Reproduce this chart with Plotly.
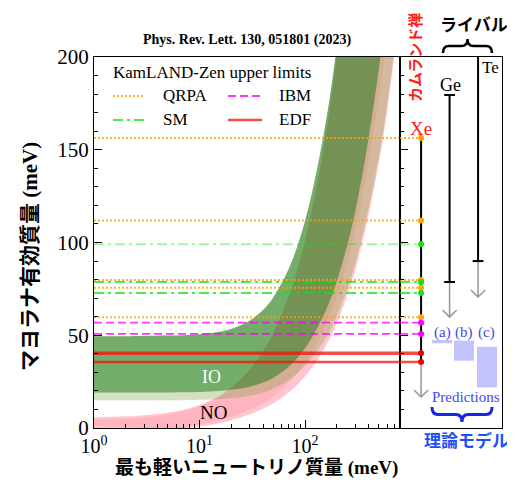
import plotly.graph_objects as go

# ---------------- data ----------------
m_light = [1, 2, 3, 5, 7, 10, 15, 20, 30, 40, 50, 70, 100, 150, 200, 300, 500, 700, 1000]

io_upper = [49.5, 49.5, 49.6, 49.8, 50.0, 50.5, 51.7, 53.4, 57.9, 63.6, 70.4, 85.7, 111.6, 158.0, 206.0, 304.1, 502.4, 701.7, 1001.2]
io_inner_lower = [19.1, 19.1, 19.1, 19.2, 19.3, 19.4, 19.9, 20.6, 22.3, 24.5, 27.1, 33.0, 43.0, 60.8, 79.3, 117.1, 193.4, 270.2, 385.5]
io_outer_lower = [14.9, 14.9, 14.9, 14.9, 15.0, 15.2, 15.5, 16.0, 17.4, 19.1, 21.1, 25.7, 33.5, 46.5, 60.5, 89.0, 146.0, 204.0, 290.0]

no_outer_upper = [5.8, 6.3, 6.9, 8.2, 9.8, 12.4, 17.0, 21.8, 31.5, 41.4, 51.3, 71.2, 101.1, 151.0, 201.0, 301.0, 501.0, 701.0, 1001.0]
no_outer_lower = [0.0, 0.0, 0.0, 0.0, 0.0, 0.8, 2.4, 4.2, 7.4, 10.4, 13.3, 19.1, 27.8, 42.2, 56.6, 85.3, 142.6, 200.0, 286.0]
no_inner_upper = [4.6, 5.1, 5.8, 7.3, 9.0, 11.6, 16.2, 21.0, 30.8, 40.7, 50.6, 70.5, 100.4, 150.3, 200.3, 300.2, 500.1, 700.1, 1000.0]
no_inner_lower = [1.0, 0.5, 0.0, 0.0, 0.0, 2.0, 4.0, 6.0, 9.8, 13.4, 17.0, 24.2, 35.0, 53.0, 71.0, 107.0, 178.0, 250.0, 357.0]

qrpa_limits = [156.3, 111.8, 79.8, 75.6, 59.7]
sm_limits = [99.0, 78.7, 72.8]
ibm_limits = [56.8, 50.7]
edf_limits = [40.3, 35.6]

exp_names = ["Xe", "Ge", "Te"]
exp_upper = [156.3, 179.5, 305.0]
exp_lower = [35.6, 78.7, 90.0]
exp_arrow_tip = [16.7, 59.8, 70.6]

pred_labels = ["(a)", "(b)", "(c)"]
pred_high = [47.4, 47.1, 43.8]
pred_low = [45.7, 36.3, 21.9]

x_ticks = [1, 10, 100]
x_ticktext = ["10<sup>0</sup>", "10<sup>1</sup>", "10<sup>2</sup>"]
y_ticks = [0, 50, 100, 150, 200]

# ---------------- layout helpers ----------------
OFF = 8                      # page body margin
W, H = 515 - OFF, 486 - OFF
L, T = 94 - OFF, 57 - OFF
R = W - (502 - OFF)
B = H - (428 - OFF)
PW, PH = W - L - R, H - T - B


def px(x):
    return (x - OFF - L) / PW


def py(y):
    return (H - B - (y - OFF)) / PH


SERIF = "Liberation Serif"
CJK = "Liberation Serif, Noto Sans CJK JP"

fig = go.Figure()


def band(lo, hi, color):
    fig.add_trace(go.Scatter(x=m_light, y=lo, mode="lines", line=dict(width=0, shape="spline"),
                             hoverinfo="skip", showlegend=False))
    fig.add_trace(go.Scatter(x=m_light, y=hi, mode="lines", line=dict(width=0, shape="spline"),
                             fill="tonexty", fillcolor=color, hoverinfo="skip", showlegend=False))


band(no_outer_lower, no_outer_upper, "rgba(255,160,175,0.6)")
band(no_inner_lower, no_inner_upper, "rgba(255,140,160,0.3)")
band(io_outer_lower, io_upper, "rgba(120,160,60,0.32)")
band(io_inner_lower, io_upper, "rgba(20,120,20,0.5)")

X_END = 1000
styles = {
    "QRPA": dict(color="rgba(255,160,0,0.8)", dash="2px,2px", width=2),
    "SM": dict(color="rgba(20,225,20,0.75)", dash="10px,4px,3px,4px", width=2),
    "IBM": dict(color="rgba(255,0,255,0.8)", dash="8px,4px", width=1.8),
    "EDF": dict(color="rgba(240,20,10,0.75)", dash="solid", width=2.5),
}
groups = [("QRPA", qrpa_limits), ("SM", sm_limits), ("IBM", ibm_limits), ("EDF", edf_limits)]
dot_colors = {"QRPA": "rgb(255,165,0)", "SM": "rgb(20,225,20)", "IBM": "rgb(255,0,255)", "EDF": "rgb(240,0,0)"}

for name, vals in groups:
    for i, v in enumerate(vals):
        st = dict(styles[name])
        if name == "SM" and i == 0:
            st["color"] = "rgba(20,225,20,0.4)"
        if name == "EDF" and i == 0:
            st["width"] = 3.5
        fig.add_trace(go.Scatter(x=[1, X_END], y=[v, v], mode="lines", line=st,
                                 hoverinfo="skip", showlegend=False, xaxis="x", yaxis="y"))
        fig.add_trace(go.Scatter(x=[0.26, 1], y=[v, v], mode="lines", line=st,
                                 hoverinfo="skip", showlegend=False, xaxis="x2", yaxis="y2"))

# ---------------- right panel: experiments ----------------
ARM_X, ARM_Y, CAP = 0.25, 3.8, 0.19
for i, nm in enumerate(exp_names):
    xc = i + 1
    fig.add_trace(go.Scatter(x=[xc, xc], y=[exp_lower[i], exp_arrow_tip[i]], mode="lines",
                             line=dict(color="rgb(150,150,150)", width=1.5), hoverinfo="skip",
                             showlegend=False, xaxis="x2", yaxis="y2"))
    fig.add_trace(go.Scatter(x=[xc - ARM_X, xc, xc + ARM_X],
                             y=[exp_arrow_tip[i] + ARM_Y, exp_arrow_tip[i], exp_arrow_tip[i] + ARM_Y],
                             mode="lines", line=dict(color="rgb(150,150,150)", width=1.5), hoverinfo="skip",
                             showlegend=False, xaxis="x2", yaxis="y2"))
    fig.add_trace(go.Scatter(x=[xc, xc], y=[exp_upper[i], exp_lower[i]], mode="lines",
                             line=dict(color="black", width=2), hoverinfo="skip",
                             showlegend=False, xaxis="x2", yaxis="y2"))
    if nm != "Xe":
        fig.add_trace(go.Scatter(x=[xc - CAP, xc + CAP], y=[exp_lower[i]] * 2, mode="lines",
                                 line=dict(color="black", width=2), hoverinfo="skip",
                                 showlegend=False, xaxis="x2", yaxis="y2"))
    if nm == "Ge":
        fig.add_trace(go.Scatter(x=[xc - CAP, xc + CAP], y=[exp_upper[i]] * 2, mode="lines",
                                 line=dict(color="black", width=2), hoverinfo="skip",
                                 showlegend=False, xaxis="x2", yaxis="y2"))

for name, vals in groups:
    fig.add_trace(go.Scatter(x=[1] * len(vals), y=vals, mode="markers",
                             marker=dict(color=dot_colors[name], size=6), hoverinfo="skip",
                             showlegend=False, xaxis="x2", yaxis="y2"))

# prediction boxes
pred_x = [(1.383, 2.085), (2.155, 2.857), (2.962, 3.664)]
shapes = []
for (x0, x1), lo, hi in zip(pred_x, pred_low, pred_high):
    shapes.append(dict(type="rect", xref="x2", yref="y2", x0=x0, x1=x1, y0=lo, y1=hi,
                       fillcolor="rgba(170,170,250,0.7)", line=dict(width=0), layer="above"))

annotations = []
for (x0, x1), lab in zip(pred_x, pred_labels):
    annotations.append(dict(x=(x0 + x1) / 2, y=51.3, xref="x2", yref="y2", text=lab, showarrow=False,
                            xanchor="center", yanchor="middle",
                            font=dict(family=SERIF, size=15, color="rgb(70,70,235)")))


def ptext(x, y, text, size, color="black", family=SERIF, xanchor="center", angle=0):
    return dict(x=px(x), y=py(y), xref="paper", yref="paper", text=text, showarrow=False,
                xanchor=xanchor, yanchor="middle", textangle=angle,
                font=dict(family=family, size=size, color=color))


# legend lines (manual)
leg = [("QRPA", 113, 145, 96, 161), ("IBM", 228, 262, 96, 277),
       ("SM", 113, 145, 120, 161), ("EDF", 228, 262, 120, 277)]
for name, x0, x1, yy, tx in leg:
    st = dict(styles[name])
    shapes.append(dict(type="line", xref="paper", yref="paper", x0=px(x0), x1=px(x1), y0=py(yy), y1=py(yy),
                       line=st))
    annotations.append(ptext(tx, yy, name, 17, xanchor="left"))
annotations.append(ptext(111, 73, "KamLAND-Zen upper limits", 17, xanchor="left"))


def brace(x0, x1, y_end, y_tip, r=6):
    ym = (y_end + y_tip) / 2
    xm = (x0 + x1) / 2
    pts = [("M", [(x0, y_end)]), ("Q", [(x0, ym), (x0 + r, ym)]), ("L", [(xm - r, ym)]),
           ("Q", [(xm, ym), (xm, y_tip)]), ("Q", [(xm, ym), (xm + r, ym)]), ("L", [(x1 - r, ym)]),
           ("Q", [(x1, ym), (x1, y_end)])]
    s = ""
    for cmd, ps in pts:
        s += cmd + " " + " ".join(f"{px(a):.5f},{py(b):.5f}" for a, b in ps) + " "
    return s.strip()


shapes.append(dict(type="path", xref="paper", yref="paper", path=brace(443, 492, 53, 39),
                   line=dict(color="black", width=2.5)))
shapes.append(dict(type="path", xref="paper", yref="paper", path=brace(432, 492, 407, 422),
                   line=dict(color="rgb(20,40,225)", width=3)))

JP = "Noto Sans CJK JP"
annotations += [
    ptext(247, 40, "<b>Phys. Rev. Lett. 130, 051801 (2023)</b>", 14),
    ptext(414, 58, "<b>カムランド禅</b>", 15, color="rgb(255,25,25)", family=JP, angle=-90),
    ptext(474, 24, "<b>ライバル</b>", 17, family=JP),
    ptext(466, 439, "<b>理論モデル</b>", 17, color="rgb(30,80,250)", family=JP),
    ptext(466, 397, "Predictions", 15, color="rgb(70,70,240)"),
    ptext(421, 128, "Xe", 19, color="rgb(255,25,25)"),
    ptext(450, 85, "Ge", 18),
    ptext(490, 68, "Te", 17),
    ptext(256, 468, "<b>最も軽いニュートリノ質量 (meV)</b>", 19, family=CJK),
    ptext(30, 257, "<b>マヨラナ有効質量 (meV)</b>", 21, family=CJK, angle=-90),
    dict(x=1.11, y=27.5, xref="x", yref="y", text="IO", showarrow=False,
         font=dict(family=SERIF, size=18, color="white")),
    dict(x=1.137, y=8.1, xref="x", yref="y", text="NO", showarrow=False,
         font=dict(family=SERIF, size=19, color="black")),
]

minor_x = [k * 10 ** d for d in range(0, 3) for k in range(2, 10)]

fig.update_layout(
    width=W, height=H, margin=dict(l=L, r=R, t=T, b=B, autoexpand=False),
    paper_bgcolor="white", plot_bgcolor="white", showlegend=False,
    xaxis=dict(type="log", range=[0, 2.9], domain=[0, 0.75], tickvals=x_ticks, ticktext=x_ticktext,
               automargin=False,
               ticks="inside", ticklen=8, tickcolor="black", showgrid=False, zeroline=False,
               showline=True, linecolor="black", linewidth=1, mirror=True,
               tickfont=dict(family=SERIF, size=20, color="black"),
               minor=dict(tickvals=minor_x, ticks="inside", ticklen=4, tickcolor="black", showgrid=False)),
    yaxis=dict(range=[0, 200], tickvals=y_ticks, ticks="inside", ticklen=8, tickcolor="black",
               automargin=False,
               showgrid=False, zeroline=False, showline=True, linecolor="black", linewidth=1, mirror=True,
               tickfont=dict(family=SERIF, size=21, color="black"),
               minor=dict(dtick=10, ticks="inside", ticklen=4, tickcolor="black", showgrid=False)),
    xaxis2=dict(domain=[0.75, 1], range=[0.26, 3.84], anchor="y2", showticklabels=False, ticks="",
                automargin=False,
                showgrid=False, zeroline=False, showline=True, linecolor="black", linewidth=1, mirror=True),
    yaxis2=dict(anchor="x2", range=[0, 200], matches="y", side="left", showticklabels=False,
                automargin=False,
                tickvals=y_ticks, ticks="inside", ticklen=8, tickcolor="black", showgrid=False,
                zeroline=False, showline=True, linecolor="black", linewidth=1, mirror=True,
                minor=dict(dtick=10, ticks="inside", ticklen=4, tickcolor="black", showgrid=False)),
    shapes=shapes, annotations=annotations,
)

fig.write_html("out.html")
